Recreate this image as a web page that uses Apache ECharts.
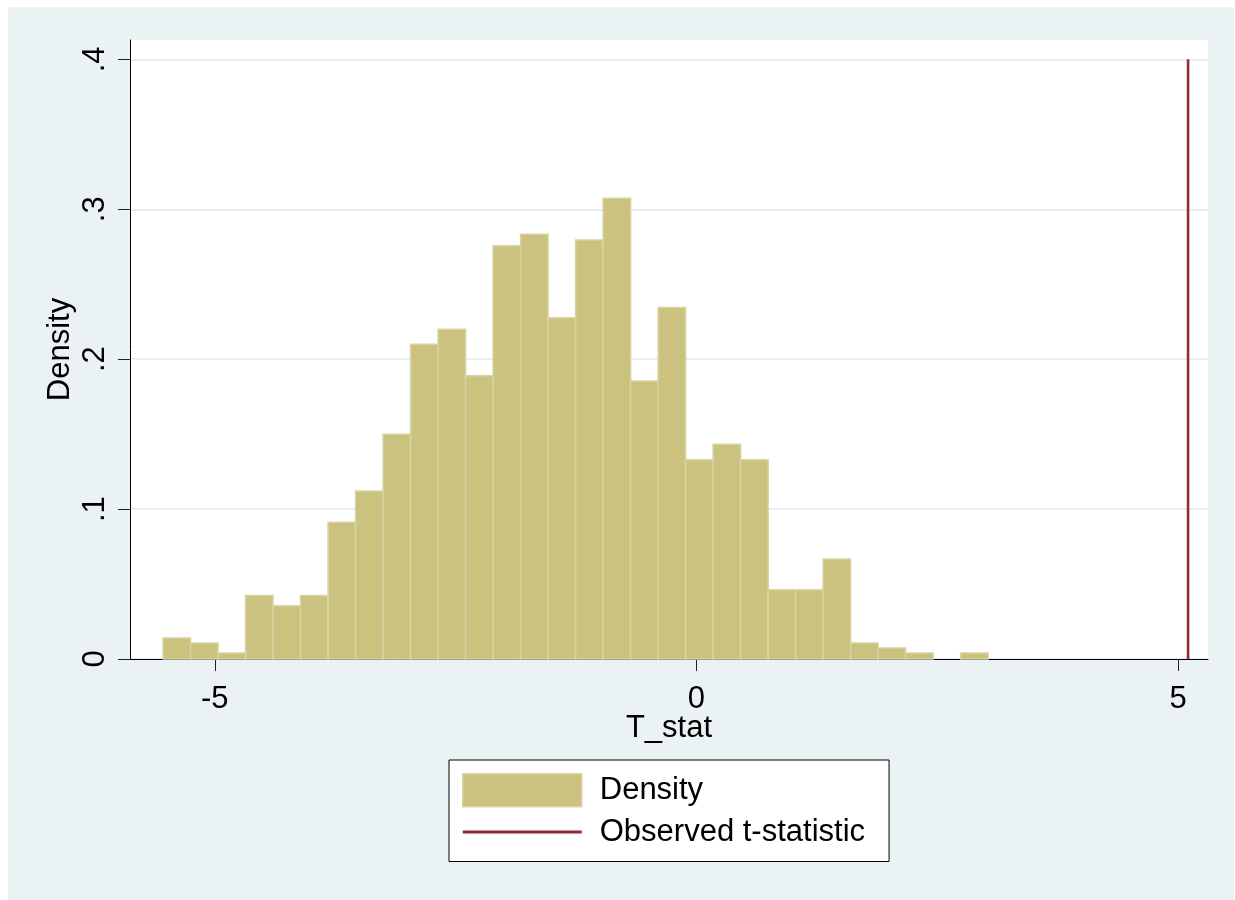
<!DOCTYPE html>
<html><head><meta charset="utf-8">
<script src="https://cdn.jsdelivr.net/npm/echarts@6/dist/echarts.min.js"></script>
<style>
html,body{margin:0;padding:0;background:#fff;}
#bg{position:absolute;left:8px;top:7px;width:1226px;height:893px;background:#EAF2F3;}
#chart{position:absolute;left:0;top:0;width:1235px;height:900px;}
</style></head>
<body><div id="bg"></div><div id="chart"></div>
<script>
// Histogram bins (T_stat)
const binStart = -5.537;
const binWidth = 0.2855;
const densities = [0.014, 0.0107, 0.004, 0.0424, 0.0355, 0.0424, 0.0913, 0.112, 0.150, 0.210,
                   0.220, 0.189, 0.2757, 0.2833, 0.2277, 0.2795, 0.3073, 0.1855, 0.2344, 0.1329,
                   0.1433, 0.1329, 0.0462, 0.0462, 0.0667, 0.0107, 0.0073, 0.004, 0, 0.004];
const observedT = 5.103;
const observedLineTop = 0.4;
const xTicks = [-5, 0, 5];
const xTickLabels = ['-5', '0', '5'];
const yTicks = [0, 0.1, 0.2, 0.3, 0.4];
const yTickLabels = ['0', '.1', '.2', '.3', '.4'];

const barData = densities.map((d, i) => [binStart + i * binWidth, binStart + (i + 1) * binWidth, d]);

const FONT = "'Liberation Sans', Arial, sans-serif";
const FS = 31;
const BAR_FILL = '#CAC27E';
const BAR_EDGE = '#D8D3A2';
const LINE_COLOR = '#8F2C35';

function nearestLabel(v, ticks, labels) {
  let best = 0;
  for (let i = 1; i < ticks.length; i++) if (Math.abs(ticks[i] - v) < Math.abs(ticks[best] - v)) best = i;
  return labels[best];
}

const chart = echarts.init(document.getElementById('chart'), null, {renderer: 'canvas'});
chart.setOption({
  backgroundColor: 'transparent',
  animation: false,
  textStyle: {fontFamily: FONT},
  grid: {left: 130, top: 40, width: 1078, height: 619, show: true, backgroundColor: '#fff', borderWidth: 0},
  xAxis: {
    type: 'value', min: -5.88, max: 5.31,
    name: 'T_stat', nameLocation: 'middle', nameGap: 54, nameMoveOverlap: false,
    nameTextStyle: {fontSize: FS, color: '#000', fontFamily: FONT},
    axisLine: {show: true, onZero: false, lineStyle: {color: '#000', width: 1}},
    axisTick: {show: true, length: 12, lineStyle: {color: '#222', width: 1}, customValues: xTicks},
    axisLabel: {fontSize: FS, color: '#000', margin: 25, fontFamily: FONT, customValues: xTicks,
                formatter: v => nearestLabel(v, xTicks, xTickLabels)},
    splitLine: {show: false}
  },
  yAxis: {
    type: 'value', min: 0, max: 0.4129,
    name: 'Density', nameLocation: 'middle', nameGap: 54, nameRotate: 90, nameMoveOverlap: false,
    nameTextStyle: {fontSize: FS, color: '#000', fontFamily: FONT},
    axisLine: {show: true, onZero: false, lineStyle: {color: '#000', width: 1}},
    axisTick: {show: true, length: 12, lineStyle: {color: '#222', width: 1}, customValues: yTicks},
    axisLabel: {fontSize: FS, color: '#000', margin: 19, rotate: 90, fontFamily: FONT, customValues: yTicks,
                formatter: v => nearestLabel(v, yTicks, yTickLabels)},
    splitLine: {show: true, lineStyle: {color: '#E6F0F2', width: 2}}
  },
  legend: {
    show: true, orient: 'vertical', left: 449, top: 760,
    padding: [13, 24, 14, 13], itemGap: 9, itemWidth: 119, itemHeight: 33,
    symbolKeepAspect: true,
    backgroundColor: '#fff', borderColor: '#000', borderWidth: 1, borderRadius: 0,
    textStyle: {fontSize: FS, color: '#000', fontFamily: FONT, padding: [0, 0, 0, 13]},
    data: [
      {name: 'Density', icon: 'rect', itemStyle: {color: BAR_FILL, borderColor: BAR_EDGE, borderWidth: 1.5}},
      {name: 'Observed t-statistic', icon: 'path://M0,0 L119,0 L119,3 L0,3 Z',
       itemStyle: {color: LINE_COLOR, borderWidth: 0}}
    ]
  },
  series: [
    {
      name: 'Density', type: 'custom', data: barData,
      encode: {x: [0, 1], y: 2},
      itemStyle: {color: BAR_FILL, borderColor: BAR_EDGE},
      renderItem: function (params, api) {
        const h = api.value(2);
        if (!(h > 0)) return null;
        const p0 = api.coord([api.value(0), h]);
        const p1 = api.coord([api.value(1), 0]);
        return {
          type: 'rect',
          shape: {x: p0[0], y: p0[1], width: p1[0] - p0[0], height: p1[1] - p0[1]},
          style: {fill: BAR_FILL, stroke: BAR_EDGE, lineWidth: 1.5}
        };
      }
    },
    {
      name: 'Observed t-statistic', type: 'line',
      data: [[observedT, 0], [observedT, observedLineTop]],
      symbol: 'none', showSymbol: false, z: 5,
      lineStyle: {color: LINE_COLOR, width: 2.6},
      itemStyle: {color: LINE_COLOR}
    }
  ]
});
</script>
</body></html>
